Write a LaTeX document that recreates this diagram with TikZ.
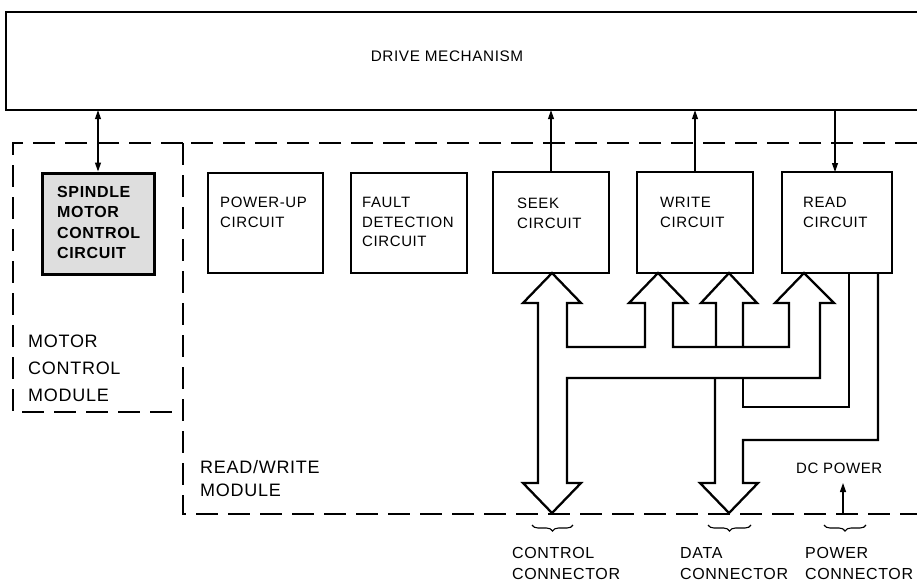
\documentclass[tikz,border=0pt]{standalone}
\usepackage{fontspec}
\setmainfont{Liberation Sans}
\newfontfamily\lbl[LetterSpace=4]{Liberation Sans}
\usetikzlibrary{arrows.meta,decorations.pathreplacing}
\tikzset{
  box/.style={draw, line width=2.5pt, inner sep=0pt},
  drivebox/.style={line width=2.2pt},
  modline/.style={line width=2.4pt, dash pattern=on 22pt off 10pt},
  bus/.style={line width=2.3pt, line join=miter},
  sig/.style={line width=1.2pt, -{Triangle[length=9pt,width=6pt]}},
  sigboth/.style={line width=1.2pt, {Triangle[length=9pt,width=6pt]}-{Triangle[length=9pt,width=6pt]}},
  bracestyle/.style={line width=1.1pt, decorate, decoration={brace, amplitude=6pt, mirror}},
  txt/.style={anchor=north west, inner sep=0pt, align=left, font=\lbl\fontsize{15}{19.5}\selectfont},
  bigtxt/.style={anchor=north west, inner sep=0pt, align=left, font=\lbl\fontsize{18}{27}\selectfont},
  contxt/.style={anchor=north west, inner sep=0pt, align=left, font=\lbl\fontsize{16}{21}\selectfont},
}
\begin{document}
\begin{tikzpicture}[x=1pt,y=-1pt]
\useasboundingbox (0,0) rectangle (917,584);
\fill[white] (0,0) rectangle (917,584);

% drive mechanism (open to the right)
\node[inner sep=0pt, minimum width=911pt, minimum height=98pt] (drive) at (461.5,61) {};
\draw[drivebox] (drive.north east) -- (drive.north west) -- (drive.south west) -- (drive.south east);
\node[inner sep=0pt, font=\lbl\fontsize{15.3}{18}\selectfont] (drivelbl) at (447,56.5) {DRIVE MECHANISM};

% module outlines
\draw[modline] (917,143) -- (183,143);
\draw[modline] (183,143) -- (13,143) -- (13,412) -- (183,412);
\draw[modline] (183,143) -- (183,514) -- (917,514);

% circuit boxes
\node[box, line width=3pt, fill=black!13, minimum width=112pt, minimum height=101pt] (spindle) at (98,223.5) {};
\node[box, minimum width=115pt, minimum height=100pt] (powerup) at (265.5,223) {};
\node[box, minimum width=116pt, minimum height=100pt] (fault) at (409,223) {};
\node[box, minimum width=116pt, minimum height=101pt] (seek) at (551,222.5) {};
\node[box, minimum width=116pt, minimum height=101pt] (write) at (695,222.5) {};
\node[box, minimum width=110pt, minimum height=101pt] (read) at (837,222.5) {};

% box texts
\node[txt, font=\lbl\bfseries\fontsize{16}{20.5}\selectfont] (spindlelbl) at (57,186) {SPINDLE\\MOTOR\\CONTROL\\CIRCUIT};
\node[txt] (poweruplbl) at (220,197) {POWER-UP\\CIRCUIT};
\node[txt] (faultlbl) at (362,197) {FAULT\\DETECTION\\CIRCUIT};
\node[txt] (seeklbl) at (517,198) {SEEK\\CIRCUIT};
\node[txt] (writelbl) at (660,197) {WRITE\\CIRCUIT};
\node[txt] (readlbl) at (803,197) {READ\\CIRCUIT};

% module labels
\node[bigtxt] (mcmlbl) at (28,335) {MOTOR\\CONTROL\\MODULE};
\node[bigtxt, font=\lbl\fontsize{18}{23.5}\selectfont] (rwmlbl) at (200,460) {READ/WRITE\\MODULE};

% signal arrows to/from drive mechanism
\draw[sigboth] (drive.south -| spindle.north) -- (spindle.north);
\draw[sig] (seek.north) -- (drive.south -| seek.north);
\draw[sig] (write.north) -- (drive.south -| write.north);
\coordinate (readin) at (835,172);
\draw[sig] (drive.south -| readin) -- (readin);

% bus outlines
\draw[bus] (538,483) -- (523,483) -- (552,513) -- (581,483) -- (567,483) -- (567,378)
  -- (820,378) -- (820,303) -- (834,303) -- (804,273) -- (775,303) -- (789,303) -- (789,347)
  -- (673,347) -- (673,303) -- (687,303) -- (658,273) -- (629,303) -- (645,303) -- (645,347)
  -- (567,347) -- (567,303) -- (581,303) -- (552,273) -- (523,303) -- (538,303) -- cycle;
\draw[bus] (716,347) -- (716,303) -- (701,303) -- (729,273) -- (757,303) -- (743,303) -- (743,347);
\draw[bus] (715,378) -- (715,483) -- (700,483) -- (729,513) -- (758,483) -- (743,483) -- (743,440) -- (878,440) -- (878,273);
\draw[bus] (743,378) -- (743,407) -- (849,407) -- (849,273);

% DC power
\node[txt] (dclbl) at (796,463) {DC POWER};
\coordinate (pwrin) at (843,513);
\draw[sig] (pwrin) -- (843,483);

% connector braces and labels
\draw[bracestyle] (532,525) -- (573,525);
\draw[bracestyle] (708,525) -- (751,525);
\draw[bracestyle] (824,525) -- (866,525);
\node[contxt] (ctrlcon) at (512,547) {CONTROL\\CONNECTOR};
\node[contxt] (datacon) at (680,547) {DATA\\CONNECTOR};
\node[contxt] (powcon) at (805,547) {POWER\\CONNECTOR};
\end{tikzpicture}
\end{document}
